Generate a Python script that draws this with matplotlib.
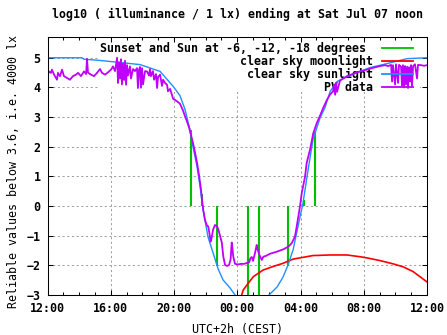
import numpy as np
import matplotlib.pyplot as plt
from matplotlib.patches import Rectangle

plt.rcParams['font.family'] = 'DejaVu Sans Mono'
plt.rcParams['font.weight'] = 'bold'
plt.rcParams['font.size'] = 8.4

# time axis: hours after 12:00 (Fri noon) .. 24 = Sat noon
# clear sky sunlight, log10(lx)
sun_h = [0.0, 2.18, 2.31, 3.32, 4.59, 5.85, 7.12, 7.94, 8.38, 8.70, 9.01, 9.20,
         9.46, 9.65, 9.84, 10.15, 10.47, 10.79, 11.10, 11.54, 11.86, 12.9,
         14.01, 14.52, 14.90, 15.21, 15.53, 15.84, 16.16, 16.48, 16.79, 17.24,
         17.55, 17.87, 18.31, 18.94, 19.58, 20.40, 21.22, 22.74, 24.0]
sun_v = [5.0, 5.0, 4.95, 4.91, 4.84, 4.77, 4.54, 4.04, 3.72, 3.25, 2.57, 2.0,
         1.32, 0.65, -0.13, -1.04, -1.58, -2.12, -2.49, -2.76, -3.0, -3.6,
         -3.0, -2.73, -2.39, -1.99, -1.48, -0.70, 0.11, 1.22, 2.24, 2.98,
         3.32, 3.86, 4.20, 4.36, 4.50, 4.67, 4.77, 4.97, 5.0]

# clear sky moonlight
moon_h = [12.28, 12.38, 12.70, 13.02, 13.63, 14.26, 14.90, 15.53, 16.16, 16.79,
          17.87, 18.94, 19.77, 20.21, 21.03, 21.86, 22.49, 23.12, 23.75, 24.0]
moon_v = [-3.0, -2.83, -2.60, -2.38, -2.16, -2.04, -1.93, -1.79, -1.73, -1.67,
          -1.65, -1.65, -1.71, -1.75, -1.84, -1.95, -2.05, -2.21, -2.46, -2.56]

# PV sensor data
pv_h = [0.03, 0.09, 0.22, 0.28, 0.35, 0.47, 0.60, 0.66, 0.79, 0.92, 1.04, 1.23,
        1.42, 1.61, 1.80, 1.93, 2.12, 2.31, 2.44, 2.50, 2.56, 2.75, 2.94, 3.13,
        3.32, 3.45, 3.64, 3.83, 4.02, 4.14, 4.27, 4.40, 4.46, 4.52, 4.59, 4.65,
        4.71, 4.78, 4.84, 4.90, 4.97, 5.03, 5.09, 5.22, 5.28, 5.41, 5.53, 5.66,
        5.72, 5.79, 5.85, 5.91, 5.98, 6.04, 6.17, 6.29, 6.42, 6.48, 6.54, 6.67,
        6.74, 6.86, 6.93, 6.99, 7.12, 7.24, 7.31, 7.43, 7.56, 7.62, 7.75, 7.87,
        7.94, 8.06, 8.19, 8.38, 8.57, 8.70, 8.82, 8.95, 9.07, 9.20, 9.33, 9.46,
        9.58, 9.71, 9.77, 9.85, 9.96, 10.07, 10.17, 10.25, 10.31, 10.37, 10.47,
        10.59, 10.72, 10.82, 10.91, 11.02, 11.12, 11.23, 11.35, 11.48, 11.58,
        11.65, 11.70, 11.75, 11.86, 12.05, 12.24, 12.43, 12.62, 12.75, 12.84,
        12.92, 13.00, 13.12, 13.23, 13.28, 13.40, 13.55, 13.65, 13.82, 14.07,
        14.50, 14.91, 15.23, 15.45, 15.65, 15.76, 15.86, 15.97, 16.08, 16.29,
        16.39, 16.60, 16.81, 17.03, 17.24, 17.43, 17.68, 17.87, 18.06, 18.12,
        18.19, 18.25, 18.31, 18.50, 18.94, 19.58, 20.21, 20.59, 21.03, 21.35,
        21.54, 21.73, 21.79, 21.85, 21.98, 22.04, 22.17, 22.23, 22.36, 22.42,
        22.48, 22.55, 22.61, 22.67, 22.74, 22.80, 22.86, 22.93, 22.99, 23.05,
        23.12, 23.24, 23.37, 23.43, 23.62, 23.81, 24.0]
pv_v = [4.43, 4.54, 4.49, 4.60, 4.51, 4.38, 4.26, 4.49, 4.38, 4.60, 4.38, 4.32,
        4.26, 4.38, 4.43, 4.49, 4.38, 4.54, 4.45, 4.96, 4.50, 4.43, 4.38, 4.49,
        4.62, 4.49, 4.43, 4.51, 4.60, 4.71, 4.55, 5.0, 4.15, 4.85, 4.30, 4.95,
        4.10, 4.80, 4.25, 4.90, 4.09, 4.75, 4.40, 4.71, 4.30, 4.62, 4.55, 4.65,
        3.98, 4.60, 4.69, 3.99, 4.65, 4.10, 4.55, 4.54, 4.40, 4.62, 4.38, 4.55,
        4.26, 4.45, 3.98, 4.35, 4.43, 4.05, 4.26, 4.15, 4.09, 3.87, 3.95, 3.75,
        3.62, 3.58, 3.53, 3.45, 3.22, 3.02, 2.85, 2.65, 2.40, 2.13, 1.80, 1.45,
        1.05, 0.55, 0.21, -0.13, -0.47, -0.64, -0.70, -0.95, -1.20, -1.10, -0.80,
        -0.64, -0.68, -0.82, -1.00, -1.22, -1.71, -1.99, -2.02, -1.99, -1.80,
        -1.23, -1.45, -1.71, -1.95, -1.97, -1.95, -1.95, -1.92, -1.90, -1.75,
        -1.72, -1.85, -1.59, -1.31, -1.45, -1.65, -1.82, -1.71, -1.68, -1.61,
        -1.54, -1.46, -1.37, -1.25, -1.03, -0.69, -0.35, 0.0, 0.44, 1.0,
        1.45, 1.90, 2.46, 2.80, 3.05, 3.30, 3.59, 3.76, 3.87, 4.10,
        3.75, 4.15, 3.85, 4.23, 4.38, 4.51, 4.60, 4.66, 4.72, 4.75,
        4.72, 4.76, 4.20, 4.75, 4.10, 4.78, 4.15, 4.76, 4.70, 4.05,
        4.75, 4.00, 4.72, 4.10, 4.70, 3.98, 4.68, 4.20, 4.75, 4.05,
        4.72, 4.78, 4.30, 4.76, 4.75, 4.73, 4.75]

# sunset/sunrise and sun at -6, -12, -18 degrees (line from 0 to clear sky value)
twilight_h = [9.06, 9.77, 10.74, 12.70, 13.40, 15.23, 16.22, 16.94]
twilight_top = [2.57, 0.40, -2.02, -3.5, -3.5, -2.02, 0.20, 2.50]

xtick_h = [0, 4, 8, 12, 16, 20, 24]
xtick_labels = ['12:00', '16:00', '20:00', '00:00', '04:00', '08:00', '12:00']
ytick_v = list(range(-3, 6))

GREEN = '#00c000'
RED = '#ff0000'
BLUE = '#1e90ff'
PURPLE = '#c000ff'

fig = plt.figure(figsize=(4.47, 3.35), dpi=100)
ax = fig.add_axes([47.5 / 447, 40 / 335, 379.5 / 447, 258 / 335])

# dashed grid (drawn by hand so the key box can hide it)
for h in xtick_h[1:-1]:
    ax.axvline(h, color='#a0a0a0', lw=0.75, ls=(0, (2, 2.5)), zorder=0.5)
for v in ytick_v[1:]:
    ax.axhline(v, color='#a0a0a0', lw=0.75, ls=(0, (2, 2.5)), zorder=0.5)
ax.add_patch(Rectangle((0.133, 0.785), 0.849, 0.215, transform=ax.transAxes,
                       facecolor='white', edgecolor='none', zorder=1))

ax.vlines(twilight_h, 0, twilight_top, colors=GREEN, lw=1.5, zorder=2)
ax.plot(moon_h, moon_v, color=RED, lw=1.2, zorder=2)
ax.plot(sun_h, sun_v, color=BLUE, lw=1.0, zorder=2)
ax.plot(pv_h, pv_v, color=PURPLE, lw=1.3, zorder=2)

# key, gnuplot style: right aligned text, sample line right of it
key_labels = ['Sunset and Sun at -6, -12, -18 degrees ', 'clear sky moonlight',
              'clear sky sunlight', 'PV data']
key_colors = [GREEN, RED, BLUE, PURPLE]
for i, (lab, col) in enumerate(zip(key_labels, key_colors)):
    yk = 0.957 - i * 0.0505
    ax.text(0.858, yk, lab, transform=ax.transAxes, ha='right', va='center', zorder=1.5)
    ax.plot([0.881, 0.963], [yk, yk], color=col, lw=1.3, transform=ax.transAxes, zorder=2)

ax.set_xlim(0, 24)
ax.set_ylim(-3, 5.7)
ax.set_xticks(xtick_h, xtick_labels)
ax.set_xticks(np.arange(0, 25, 1), minor=True)
ax.set_yticks(ytick_v)
ax.tick_params(which='both', direction='in', top=True, right=True, width=0.75)
ax.tick_params(which='major', length=3.6)
ax.tick_params(which='minor', length=2.5)
ax.tick_params(axis='x', pad=5)
ax.tick_params(axis='y', pad=5)
for s in ax.spines.values():
    s.set_linewidth(0.75)

ax.set_title('log10 ( illuminance / 1 lx) ending at Sat Jul 07 noon', pad=14,
             fontsize=8.4, fontweight='bold')
ax.set_xlabel('UTC+2h (CEST)', labelpad=6)
ax.set_ylabel('Reliable values below 3.6, i.e. 4000 lx')
ax.yaxis.set_label_coords(-0.072, 0.48)

fig.savefig('out.png', dpi=100)
